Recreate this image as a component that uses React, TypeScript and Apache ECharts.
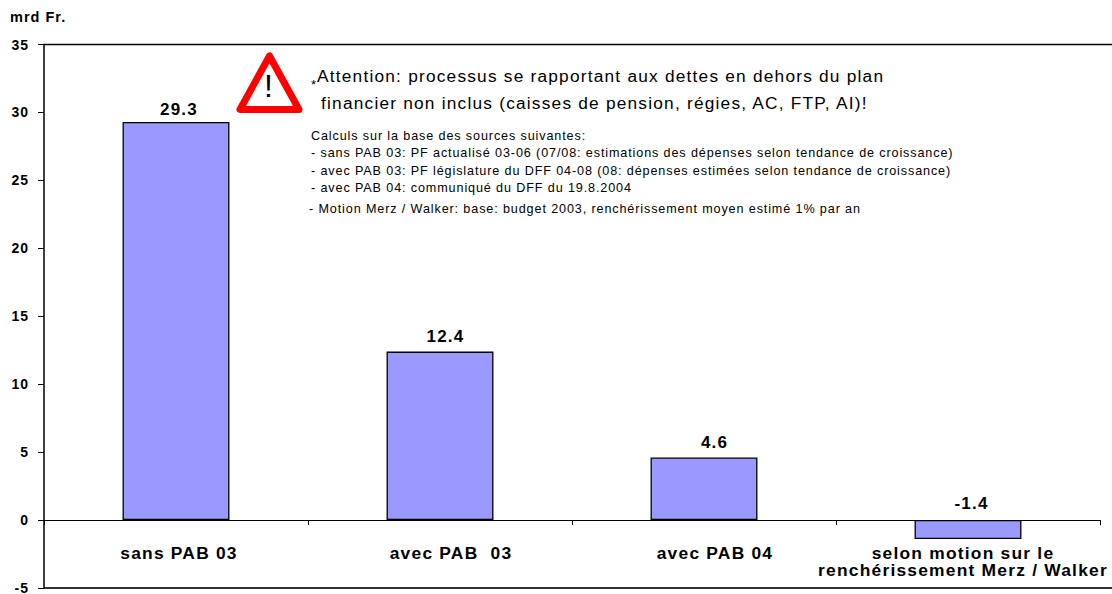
import React, { useEffect, useRef } from "react";
import * as echarts from "echarts";

const categories = ["sans PAB 03", "avec PAB  03", "avec PAB 04", "selon motion sur le\nrenchérissement Merz / Walker"];
const values = [29.3, 12.4, 4.6, -1.4];
const unitLabel = "mrd Fr.";
const warningLines = [
  "Attention: processus se rapportant aux dettes en dehors du plan",
  "financier non inclus (caisses de pension, régies, AC, FTP, AI)!",
];
const sourceLines = [
  "Calculs sur la base des sources suivantes:",
  "- sans PAB 03: PF actualisé 03-06 (07/08: estimations des dépenses selon tendance de croissance)",
  "- avec PAB 03: PF législature du DFF 04-08 (08: dépenses estimées selon tendance de croissance)",
  "- avec PAB 04: communiqué du DFF du 19.8.2004",
];
const motionLine = "- Motion Merz / Walker: base: budget 2003, renchérissement moyen estimé 1% par an";

const FONT = "'Liberation Sans', Arial, sans-serif";

// hand-placed label nudges seen in the reference
const valueLabelNudges = [[3, 0], [5.5, -3], [10.5, -3], [3.5, -4]];
const categoryPaddings = [[0, 0, 0, 6], [0, 0, 0, 22], [0, 0, 0, 22], [0, 10, 0, 0]];

export default function App() {
  const ref = useRef<HTMLDivElement>(null);
  useEffect(() => {
    const chart = echarts.init(ref.current!, undefined, { renderer: "svg" });
    const txt = (text: string, x: number, y: number, fontSize: number, extra: any = {}) => ({
      type: "text",
      x,
      y,
      style: { text, fontSize, fontFamily: FONT, fill: "#000", textVerticalAlign: "middle", ...extra },
    });
    const line = (x1: number, y1: number, x2: number, y2: number, lineWidth: number, stroke = "#000") => ({
      type: "line",
      shape: { x1, y1, x2, y2 },
      style: { stroke, lineWidth },
    });
    chart.setOption({
      animation: false,
      backgroundColor: "#fff",
      grid: { left: 44, right: 12, top: 44.5, bottom: 6, outerBoundsMode: "none" },
      xAxis: {
        type: "category",
        data: categories.map((value, i) => ({ value, textStyle: { padding: categoryPaddings[i] } })),
        axisLine: { onZero: true, lineStyle: { color: "#000", width: 1 } },
        axisTick: { show: true, alignWithLabel: false, length: 5, lineStyle: { color: "#000", width: 1 } },
        axisLabel: {
          interval: 0,
          margin: -43.5,
          color: "#000",
          fontFamily: FONT,
          fontWeight: "bold",
          fontSize: 17.4,
          lineHeight: 17,
          align: "center",
          hideOverlap: false,
        },
      },
      yAxis: {
        type: "value",
        min: -5,
        max: 35,
        interval: 5,
        axisLine: { show: true, lineStyle: { color: "#000", width: 1.5 } },
        axisTick: { show: true, length: 6, lineStyle: { color: "#000", width: 1 } },
        splitLine: { show: false },
        axisLabel: { margin: 15, color: "#000", fontFamily: FONT, fontWeight: "bold", fontSize: 14 },
      },
      series: [
        {
          type: "bar",
          data: values.map((value, i) => ({ value, label: { offset: valueLabelNudges[i] } })),
          barWidth: "40.5%",
          itemStyle: { color: "#9999FF", borderColor: "#000", borderWidth: 1.3 },
          label: {
            show: true,
            position: "top",
            distance: 4,
            color: "#000",
            fontFamily: FONT,
            fontWeight: "bold",
            fontSize: 17,
          },
        },
      ],
      graphic: {
        elements: [
          line(44, 44.5, 1112, 44.5, 1.5),
          line(44, 588, 1112, 588, 2, "#333"),
          txt(unitLabel, 10, 17, 14.5, { fontWeight: "bold" }),
          {
            type: "polygon",
            shape: { points: [[269.5, 56], [240, 109.5], [299, 109.5]] },
            style: { fill: "#fff", stroke: "#FF0000", lineWidth: 7, lineJoin: "round" },
          },
          txt("!", 264, 86, 32),
          txt("*", 311, 84, 13),
          txt(warningLines[0], 317, 76, 17.3),
          txt(warningLines[1], 321, 103, 17.3),
          ...sourceLines.map((s, i) => txt(s, 311, 136 + i * 17.3, 12.6)),
          txt(motionLine, 309, 209, 12.6),
        ],
      },
    });
    return () => chart.dispose();
  }, []);
  return (
    <>
      <style>{`svg text { letter-spacing: 0.07em; }`}</style>
      <div ref={ref} style={{ width: 1112, height: 594, position: "absolute", left: 0, top: 0 }} />
    </>
  );
}
